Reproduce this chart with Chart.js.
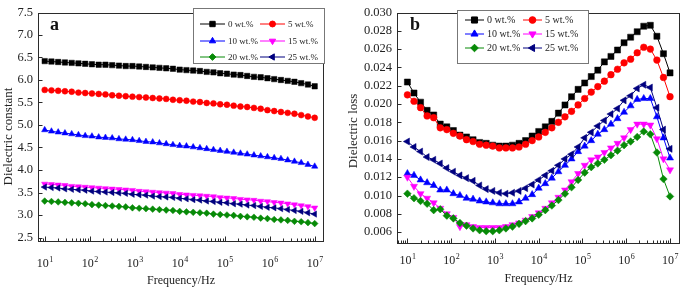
<!DOCTYPE html>
<html>
<head>
<meta charset="utf-8">
<script src="https://cdn.jsdelivr.net/npm/chart.js@4.4.1/dist/chart.umd.min.js"></script>
<style>
body { margin: 0; background: #fff; }
#wrap { position: relative; width: 685px; height: 288px; }
canvas { position: absolute; top: 0; }
#chartA { left: 0; }
#chartB { left: 340px; }
</style>
</head>
<body>
<div id="wrap">
  <canvas id="chartA" width="340" height="288"></canvas>
  <canvas id="chartB" width="345" height="288"></canvas>
</div>
<script>
// frequency points (Hz), 41 per curve
var frequencies = [10, 14.13, 19.95, 28.18, 39.81, 56.23, 79.43, 112.2, 158.5, 223.9, 316.2, 446.7, 631.0, 891.3,
  1259, 1778, 2512, 3548, 5012, 7079, 10000, 14125, 19953, 28184, 39811, 56234, 79433, 112202, 158489, 223872,
  316228, 446684, 630957, 891251, 1258925, 1778279, 2511886, 3548134, 5011872, 7079458, 10000000];

var seriesNames = ["0 wt.%", "5 wt.%", "10 wt.%", "15 wt.%", "20 wt.%", "25 wt.%"];

// panel a - dielectric constant
var epsilon0 = [6.42, 6.41, 6.40, 6.39, 6.38, 6.37, 6.36, 6.35, 6.34, 6.34, 6.33, 6.32, 6.31, 6.31, 6.30, 6.29, 6.28, 6.27, 6.26, 6.25, 6.23, 6.22, 6.21, 6.20, 6.18, 6.17, 6.15, 6.14, 6.12, 6.11, 6.09, 6.07, 6.06, 6.04, 6.02, 6.00, 5.98, 5.96, 5.93, 5.90, 5.86];
var epsilon5 = [5.78, 5.77, 5.76, 5.75, 5.74, 5.72, 5.71, 5.70, 5.69, 5.68, 5.66, 5.65, 5.64, 5.63, 5.62, 5.61, 5.60, 5.59, 5.58, 5.56, 5.55, 5.54, 5.52, 5.51, 5.49, 5.48, 5.46, 5.45, 5.43, 5.41, 5.40, 5.38, 5.36, 5.33, 5.31, 5.29, 5.27, 5.25, 5.22, 5.19, 5.16];
var epsilon10 = [4.89, 4.86, 4.84, 4.82, 4.80, 4.78, 4.76, 4.75, 4.73, 4.72, 4.71, 4.69, 4.68, 4.67, 4.65, 4.63, 4.62, 4.60, 4.58, 4.56, 4.54, 4.53, 4.51, 4.49, 4.47, 4.45, 4.43, 4.41, 4.39, 4.37, 4.35, 4.33, 4.31, 4.29, 4.27, 4.25, 4.22, 4.19, 4.16, 4.12, 4.08];
var epsilon15 = [3.69, 3.68, 3.67, 3.66, 3.64, 3.63, 3.62, 3.61, 3.60, 3.59, 3.58, 3.57, 3.56, 3.55, 3.53, 3.52, 3.51, 3.50, 3.49, 3.48, 3.46, 3.45, 3.44, 3.43, 3.42, 3.41, 3.39, 3.38, 3.37, 3.35, 3.34, 3.33, 3.31, 3.30, 3.28, 3.27, 3.25, 3.23, 3.21, 3.19, 3.16];
var epsilon20 = [3.31, 3.30, 3.29, 3.28, 3.27, 3.26, 3.25, 3.23, 3.22, 3.21, 3.20, 3.19, 3.18, 3.16, 3.15, 3.14, 3.13, 3.12, 3.11, 3.10, 3.08, 3.07, 3.06, 3.05, 3.04, 3.02, 3.01, 3.00, 2.99, 2.97, 2.96, 2.95, 2.93, 2.92, 2.90, 2.89, 2.88, 2.86, 2.85, 2.83, 2.81];
var epsilon25 = [3.62, 3.61, 3.60, 3.58, 3.57, 3.56, 3.55, 3.53, 3.52, 3.51, 3.50, 3.49, 3.48, 3.46, 3.45, 3.44, 3.42, 3.41, 3.40, 3.39, 3.37, 3.36, 3.34, 3.33, 3.31, 3.30, 3.28, 3.27, 3.25, 3.24, 3.22, 3.21, 3.19, 3.17, 3.16, 3.14, 3.12, 3.10, 3.08, 3.05, 3.02];

// panel b - dielectric loss
var loss0 = [0.0224, 0.0212, 0.0202, 0.0193, 0.0188, 0.0178, 0.0175, 0.0171, 0.0166, 0.0164, 0.0161, 0.0158, 0.0157, 0.0155, 0.0154, 0.0154, 0.0155, 0.0157, 0.0160, 0.0165, 0.0170, 0.0175, 0.0181, 0.0190, 0.0199, 0.0208, 0.0216, 0.0223, 0.0230, 0.0237, 0.0246, 0.0252, 0.0259, 0.0267, 0.0273, 0.0279, 0.0285, 0.0286, 0.0274, 0.0255, 0.0234];
var loss5 = [0.0210, 0.0203, 0.0196, 0.0187, 0.0185, 0.0174, 0.0172, 0.0168, 0.0165, 0.0161, 0.0159, 0.0156, 0.0155, 0.0154, 0.0152, 0.0152, 0.0152, 0.0153, 0.0156, 0.0160, 0.0164, 0.0169, 0.0174, 0.0180, 0.0186, 0.0192, 0.0199, 0.0206, 0.0213, 0.0219, 0.0225, 0.0232, 0.0238, 0.0245, 0.0249, 0.0256, 0.0262, 0.0260, 0.0248, 0.0229, 0.0208];
var loss10 = [0.0124, 0.0122, 0.0117, 0.0114, 0.0111, 0.0106, 0.0106, 0.0102, 0.0100, 0.0097, 0.0096, 0.0094, 0.0093, 0.0092, 0.0091, 0.0091, 0.0091, 0.0093, 0.0097, 0.0101, 0.0108, 0.0113, 0.0119, 0.0126, 0.0133, 0.0140, 0.0148, 0.0154, 0.0160, 0.0167, 0.0172, 0.0178, 0.0184, 0.0191, 0.0198, 0.0205, 0.0206, 0.0206, 0.0186, 0.0163, 0.0141];
var loss15 = [0.0120, 0.0110, 0.0102, 0.0097, 0.0092, 0.0086, 0.0080, 0.0076, 0.0066, 0.0068, 0.0066, 0.0065, 0.0065, 0.0065, 0.0065, 0.0066, 0.0068, 0.0070, 0.0073, 0.0077, 0.0081, 0.0086, 0.0092, 0.0098, 0.0106, 0.0115, 0.0124, 0.0133, 0.0139, 0.0142, 0.0147, 0.0152, 0.0157, 0.0163, 0.0172, 0.0178, 0.0178, 0.0177, 0.0162, 0.0140, 0.0128];
var loss20 = [0.0102, 0.0097, 0.0094, 0.0091, 0.0084, 0.0085, 0.0078, 0.0075, 0.0070, 0.0067, 0.0064, 0.0062, 0.0061, 0.0061, 0.0062, 0.0064, 0.0066, 0.0069, 0.0072, 0.0075, 0.0079, 0.0084, 0.0089, 0.0095, 0.0102, 0.0109, 0.0117, 0.0125, 0.0131, 0.0135, 0.0139, 0.0144, 0.0149, 0.0155, 0.0159, 0.0164, 0.0170, 0.0167, 0.0147, 0.0118, 0.0099];
var loss25 = [0.0159, 0.0153, 0.0148, 0.0142, 0.0139, 0.0135, 0.0130, 0.0126, 0.0122, 0.0119, 0.0116, 0.0111, 0.0107, 0.0105, 0.0103, 0.0102, 0.0103, 0.0105, 0.0108, 0.0112, 0.0117, 0.0122, 0.0127, 0.0133, 0.0140, 0.0145, 0.0153, 0.0163, 0.0169, 0.0176, 0.0182, 0.0189, 0.0195, 0.0204, 0.0209, 0.0217, 0.0221, 0.0218, 0.0196, 0.0172, 0.0151];

// tick labels
var constantTicks = [2.5, 3.0, 3.5, 4.0, 4.5, 5.0, 5.5, 6.0, 6.5, 7.0, 7.5];
var lossTicks = [0.006, 0.008, 0.010, 0.012, 0.014, 0.016, 0.018, 0.020, 0.022, 0.024, 0.026, 0.028, 0.030];
var decades = [1, 2, 3, 4, 5, 6, 7];

var colors = ["#000000", "#ff0000", "#0000ff", "#ff00ff", "#078a07", "#00007f"];
var pointStyles = ["rect", "circle", "triangle", "triangle", "rectRot", "triangle"];
var rotations = [0, 0, 0, 180, 0, 270];
var sizeFactor = [1, 0.78, 0.95, 0.95, 0.88, 0.95];

var serif = '"Liberation Serif", "Times New Roman", serif';

function makeSets(values, radius) {
  return values.map(function (v, i) {
    return {
      label: seriesNames[i],
      data: v,
      borderColor: colors[i],
      backgroundColor: colors[i],
      borderWidth: 1,
      pointStyle: pointStyles[i],
      rotation: rotations[i],
      pointRadius: radius * sizeFactor[i],
      pointBorderWidth: 0.5,
      order: values.length - i
    };
  });
}

// frame, inward ticks, decade labels, titles and legend
var panelPlugin = {
  id: 'panel',
  afterDraw: function (chart, args, o) {
    var ctx = chart.ctx, a = chart.chartArea, xs = chart.scales.x, ys = chart.scales.y;
    ctx.save();
    ctx.strokeStyle = '#2b2b2b';
    ctx.lineWidth = 1;
    var L = Math.round(a.left) + 0.5, R = Math.round(a.right) - 0.5;
    var T = Math.round(a.top) + 0.5, B = Math.round(a.bottom) - 0.5;
    ctx.strokeRect(L, T, R - L, B - T);
    ctx.beginPath();
    o.yTicks.forEach(function (v) {
      var py = Math.round(ys.getPixelForValue(v)) + 0.5;
      ctx.moveTo(L, py);
      ctx.lineTo(L + 4, py);
    });
    for (var e = 0; e <= 7; e++) {
      for (var k = 1; k <= 9; k++) {
        var v = k * Math.pow(10, e);
        if (v < xs.min || v > xs.max) continue;
        var px = Math.round(xs.getPixelForValue(v)) + 0.5;
        ctx.moveTo(px, B);
        ctx.lineTo(px, B - (k === 1 ? 5 : 3));
      }
    }
    ctx.stroke();

    ctx.fillStyle = '#222';
    ctx.textAlign = 'left';
    ctx.textBaseline = 'alphabetic';
    decades.forEach(function (d) {
      var px = xs.getPixelForValue(Math.pow(10, d));
      ctx.font = '12px ' + serif;
      var w1 = ctx.measureText('10').width;
      ctx.font = '8px ' + serif;
      var w2 = ctx.measureText(String(d)).width;
      var sx = px - (w1 + w2) / 2;
      ctx.font = '12px ' + serif;
      ctx.fillText('10', sx, o.tickBase);
      ctx.font = '8px ' + serif;
      ctx.fillText(String(d), sx + w1 + 0.5, o.tickBase - 5);
    });

    ctx.textAlign = 'center';
    ctx.font = '12px ' + serif;
    ctx.fillText('Frequency/Hz', (a.left + a.right) / 2, o.xTitleBase);
    ctx.save();
    ctx.translate(o.yTitle[0], o.yTitle[1]);
    ctx.rotate(-Math.PI / 2);
    ctx.textBaseline = 'middle';
    ctx.font = '13px ' + serif;
    ctx.fillText(o.yTitleText, 0, 0);
    ctx.restore();

    ctx.textAlign = 'left';
    ctx.font = 'bold 18px ' + serif;
    ctx.fillStyle = '#111';
    ctx.fillText(o.letter, o.letterPos[0], o.letterPos[1]);

    // legend
    var lg = o.legend;
    ctx.fillStyle = '#fff';
    ctx.fillRect(lg.x, lg.y, lg.w, lg.h);
    ctx.strokeStyle = '#777';
    ctx.strokeRect(Math.round(lg.x) + 0.5, Math.round(lg.y) + 0.5, Math.round(lg.w), Math.round(lg.h));
    chart.data.datasets.forEach(function (ds, j) {
      var row = Math.floor(j / 2), col = j % 2;
      var y = lg.rows[row], x0 = lg.lineX[col];
      ctx.strokeStyle = ds.borderColor;
      ctx.lineWidth = 1;
      ctx.beginPath();
      ctx.moveTo(x0, y);
      ctx.lineTo(x0 + lg.lineLen, y);
      ctx.stroke();
      ctx.fillStyle = ds.backgroundColor;
      Chart.helpers.drawPoint(ctx, {
        pointStyle: ds.pointStyle, rotation: ds.rotation,
        radius: ds.pointRadius, borderWidth: 0.5
      }, x0 + lg.lineLen / 2, y);
      ctx.fillStyle = '#222';
      ctx.font = lg.font + 'px ' + serif;
      ctx.textBaseline = 'middle';
      ctx.fillText(ds.label, lg.textX[col], y + 0.5);
    });
    ctx.restore();
  }
};

function makeChart(id, values, radius, cfg) {
  return new Chart(document.getElementById(id), {
    type: 'line',
    data: { labels: frequencies, datasets: makeSets(values, radius) },
    plugins: [panelPlugin],
    options: {
      responsive: false,
      animation: false,
      layout: { padding: cfg.padding },
      plugins: {
        legend: { display: false },
        tooltip: { enabled: false },
        panel: cfg.panel
      },
      scales: {
        x: {
          type: 'logarithmic',
          min: cfg.xMin,
          max: cfg.xMax,
          grid: { display: false, drawTicks: false },
          border: { display: false },
          ticks: { display: false },
          afterFit: function (s) { s.height = cfg.xHeight; }
        },
        y: {
          min: cfg.yMin,
          max: cfg.yMax,
          grid: { display: false, drawTicks: false },
          border: { display: false },
          afterBuildTicks: function (s) {
            s.ticks = cfg.panel.yTicks.map(function (v) { return { value: v }; });
          },
          afterFit: function (s) { s.width = cfg.yWidth; },
          ticks: {
            padding: cfg.tickPad,
            color: '#222',
            font: { family: serif, size: 12.5 },
            callback: function (v) { return Number(v).toFixed(cfg.digits); }
          }
        }
      }
    }
  });
}

makeChart('chartA', [epsilon0, epsilon5, epsilon10, epsilon15, epsilon20, epsilon25], 3.8, {
  padding: { left: 0, top: 8, right: 16, bottom: 0 },
  xMin: 7.1, xMax: 1.61e7, xHeight: 46,
  yMin: 2.4, yMax: 7.5, yWidth: 38, tickPad: 5, digits: 1,
  panel: {
    yTicks: constantTicks, tickBase: 266.5, xTitleBase: 284,
    yTitle: [8.5, 136.5], yTitleText: 'Dielectric constant',
    letter: 'a', letterPos: [50, 30],
    legend: { x: 193, y: 8, w: 131, h: 55, rows: [24, 41, 57], lineX: [200, 260], lineLen: 25, textX: [228, 288], font: 9 }
  }
});

makeChart('chartB', [loss0, loss5, loss10, loss15, loss20, loss25], 4.3, {
  padding: { left: 0, top: 10, right: 5, bottom: 0 },
  xMin: 5.78, xMax: 1.69e7, xHeight: 44,
  yMin: 0.0047, yMax: 0.0300, yWidth: 57, tickPad: 5, digits: 3,
  panel: {
    yTicks: lossTicks, tickBase: 264, xTitleBase: 282,
    yTitle: [13.5, 131], yTitleText: 'Dielectric loss',
    letter: 'b', letterPos: [70, 30],
    legend: { x: 117, y: 10, w: 131, h: 53, rows: [20, 34, 48], lineX: [125, 183], lineLen: 19, textX: [147, 205], font: 10 }
  }
});
</script>
</body>
</html>
